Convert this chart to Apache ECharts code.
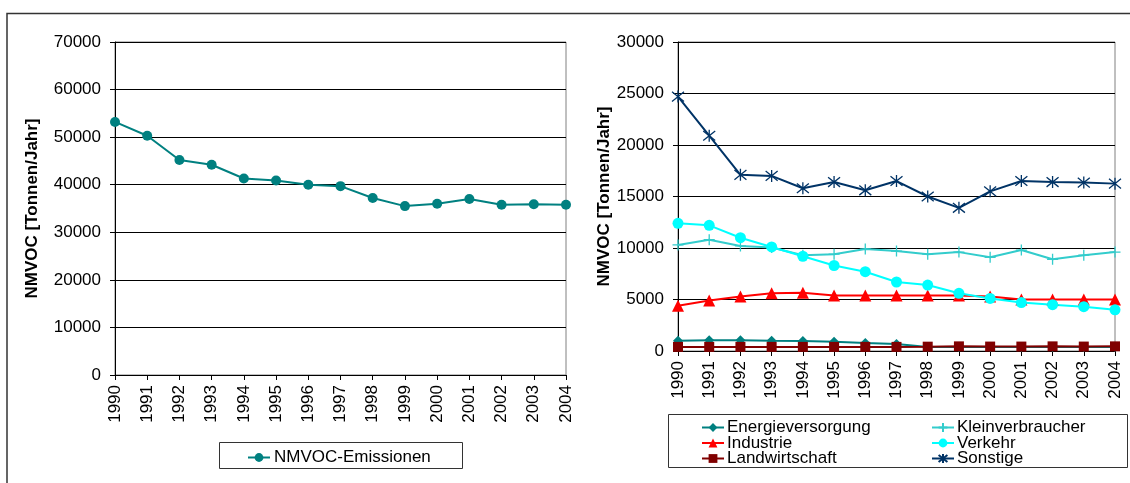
<!DOCTYPE html>
<html><head><meta charset="utf-8">
<script src="https://cdn.jsdelivr.net/npm/echarts@6/dist/echarts.min.js"></script>
<style>html,body{margin:0;padding:0;background:#fff}#c{width:1130px;height:483px}</style>
</head><body><div id="c"></div>
<script>
const years = ['1990','1991','1992','1993','1994','1995','1996','1997','1998','1999','2000','2001','2002','2003','2004'];
const total = [53200,50300,45200,44200,41300,40900,40000,39700,37200,35500,36000,37000,35800,35900,35800];
const energie = [1000,1050,1050,1000,980,900,780,680,400,400,400,400,400,400,400];
const klein = [10300,10800,10200,10050,9300,9400,9900,9700,9400,9600,9100,9800,8900,9300,9600];
const industrie = [4400,4900,5300,5600,5650,5400,5400,5400,5400,5400,5300,5000,5000,5000,5000];
const verkehr = [12400,12200,11000,10100,9200,8300,7700,6700,6400,5600,5100,4700,4500,4300,4000];
const landwirt = [400,400,400,400,400,400,400,400,420,450,430,430,450,430,450];
const sonstige = [24700,20900,17100,17000,15800,16400,15600,16500,15000,13900,15500,16500,16400,16350,16250];
const yTicksLeft = [0,10000,20000,30000,40000,50000,60000,70000];
const yTicksRight = [0,5000,10000,15000,20000,25000,30000];
const yName = 'NMVOC [Tonnen/Jahr]';

const FONT = "'Liberation Sans', Arial, sans-serif";
const chart = echarts.init(document.getElementById('c'), null, {renderer:'canvas'});

function xAxis(gi){
  return {type:'category', gridIndex:gi, data:years, boundaryGap:false,
    axisLine:{show:true, lineStyle:{color:'#000', width:1}},
    axisTick:{show:true, length:5, inside:false, lineStyle:{color:'#000'}},
    axisLabel:{rotate:90, margin:10, color:'#000', fontSize:17, fontFamily:FONT, interval:0},
    splitLine:{show:false}};
}
function yAxis(gi, ticks, gap){
  return {type:'value', gridIndex:gi, min:ticks[0], max:ticks[ticks.length-1], interval:ticks[1]-ticks[0],
    name:yName, nameLocation:'middle', nameGap:gap, nameRotate:90,
    nameTextStyle:{color:'#000', fontSize:17, fontWeight:'bold', fontFamily:FONT},
    axisLine:{show:true, lineStyle:{color:'#000', width:1}},
    axisTick:{show:true, length:5, lineStyle:{color:'#000'}},
    axisLabel:{margin:14, color:'#000', fontSize:17, fontFamily:FONT, formatter:(v)=>String(v)},
    splitLine:{show:true, lineStyle:{color:'#000', width:1}}};
}
const asterisk = 'path://M10,0L10,20M2,2L18,18M18,2L2,18';
const plus = 'path://M10,0L10,20M0,10L20,10';

function ser(name, data, color, symbol, size, gi, extra){
  return Object.assign({type:'line', name, data, xAxisIndex:gi, yAxisIndex:gi,
    symbol, symbolSize:size, showAllSymbol:true,
    lineStyle:{color, width:2},
    itemStyle:{color, borderColor:color, borderWidth:0}}, extra||{});
}

const option = {
  animation:false,
  backgroundColor:'#fff',
  textStyle:{fontFamily:FONT},
  grid:[
    {left:115, top:42, width:451, height:333, show:true, borderColor:'#808080', borderWidth:1, containLabel:false},
    {left:678, top:42, width:437, height:309, show:true, borderColor:'#808080', borderWidth:1, containLabel:false}
  ],
  xAxis:[xAxis(0), xAxis(1)],
  yAxis:[yAxis(0, yTicksLeft, 74), yAxis(1, yTicksRight, 57)],
  legend:[
    {left:247, top:449, padding:0, itemWidth:22, itemHeight:11, itemGap:0,
     textStyle:{color:'#000', fontSize:17, fontFamily:FONT, padding:[0,0,0,-1]},
     data:['NMVOC-Emissionen']},
    {left:701, top:419, orient:'vertical', padding:0, itemWidth:22, itemHeight:11, itemGap:-1.5,
     textStyle:{color:'#000', fontSize:17, fontFamily:FONT, padding:[0,0,0,-2]},
     data:['Energieversorgung','Industrie','Landwirtschaft']},
    {left:931, top:419, orient:'vertical', padding:0, itemWidth:22, itemHeight:11, itemGap:-1.5,
     textStyle:{color:'#000', fontSize:17, fontFamily:FONT, padding:[0,0,0,-2]},
     data:['Kleinverbraucher','Verkehr','Sonstige']}
  ],
  graphic:[
    {type:'polyline', shape:{points:[[7,483],[7,13.5],[1130,13.5]]}, style:{stroke:'#333', lineWidth:1.5, fill:null}, silent:true},
    {type:'rect', shape:{x:219.5, y:442.5, width:243, height:26}, style:{stroke:'#333', lineWidth:1, fill:null}, silent:true},
    {type:'rect', shape:{x:668.5, y:414.5, width:459, height:53}, style:{stroke:'#333', lineWidth:1, fill:null}, silent:true}
  ],
  series:[
    ser('NMVOC-Emissionen', total, '#008080', 'circle', 10, 0),
    ser('Energieversorgung', energie, '#008080', 'diamond', 10, 1),
    ser('Industrie', industrie, '#FF0000', 'triangle', 12, 1),
    ser('Landwirtschaft', landwirt, '#800000', 'rect', 10, 1),
    ser('Kleinverbraucher', klein, '#33CCCC', plus, 11, 1, {itemStyle:{color:'#33CCCC', borderColor:'#33CCCC', borderWidth:1.3}}),
    ser('Verkehr', verkehr, '#00FFFF', 'circle', 11, 1),
    ser('Sonstige', sonstige, '#003366', asterisk, 12, 1, {itemStyle:{color:'#003366', borderColor:'#003366', borderWidth:1.3}})
  ]
};
chart.setOption(option);
</script></body></html>
